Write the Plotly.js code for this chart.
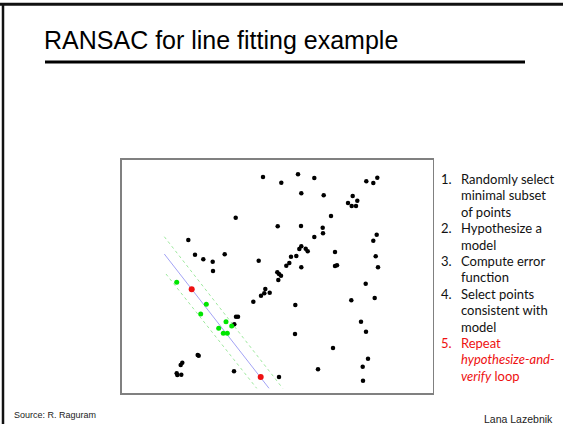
<!DOCTYPE html>
<html>
<head>
<meta charset="utf-8">
<script src="https://cdn.plot.ly/plotly-3.0.1.min.js"></script>
<style>html,body{margin:0;padding:0;background:#fff;}#chart{width:563px;height:424px;}</style>
</head>
<body>
<div id="chart"></div>
<script>
// ---- data (image pixel units) ----
var outlierX = [235.7,188.3,195,203.3,212.7,224.7,258.7,213,
  263,281.3,298,314.3,301.3,323.7,366.3,373.3,377.3,352.7,357.3,348,351.7,356,331,
  277.7,301,322.7,323,314.3,376.7,373.3,301.3,305.7,307.7,299.3,291,296.3,289.3,286.3,
  335,375.7,301.3,335,337,378,277.3,279,281,278.3,
  265.3,264.3,261,269.7,365.7,351.3,374.7,295.3,361,366,295,333,368,362.7,318,279,363,
  253.3,236,238,234.3,197.7,198.7,182.3,180.7,176.7,177.3,181.3,234];
var outlierY = [217.7,240,254.7,259.3,261.7,254.3,260.7,271,
  177,182.7,174.3,178,193.3,195.3,181.3,183,177.7,196,200.7,203,206,206,216,
  226.3,226,227.7,233.3,237,234.7,240.7,246.3,248.7,251.3,249,256.7,256,263,265.7,
  252,256.3,267.3,266,265.3,267.3,272.3,274,275.7,280,
  289,293.3,295.7,292.7,283.7,300.3,298,305,321.7,331.7,334,348,358.7,366.7,369.3,377,380.7,
  301.7,316.7,316.7,324.3,355,355.7,362.7,365,373.3,375,374.7,371.3];
var inlierX = [176.7,206.3,200.7,226,231.7,218.7,223.3,227.3];
var inlierY = [282.3,304.3,314,321.7,326,328.3,333.3,333.3];
var sampleX = [191.7,260.7];
var sampleY = [289.3,377];
var modelLineX = [164.3,269];
var modelLineY = [254,388.3];
var upperBandX = [164.3,282.7];
var upperBandY = [236.7,388.3];
var lowerBandX = [166,256.7];
var lowerBandY = [274,388.3];

var titleText = "RANSAC for line fitting example";
var stepNumbers = ["1.","","","2.","","3.","","4.","","","5.","",""];
var stepLines = ["Randomly select","minimal subset","of points","Hypothesize a","model",
  "Compute error","function","Select points","consistent with","model",
  "Repeat","<i>hypothesize-and-</i>","<i>verify</i> loop"];
var stepIsRed = [0,0,0,0,0,0,0,0,0,0,1,1,1];
var sourceText = "Source: R. Raguram";
var authorText = "Lana Lazebnik";

// ---- layout helpers ----
var W = 563, H = 424;
function px(x){return x/W;}
function py(y){return 1 - y/H;}
var box = {x0:121.5, x1:432.5, y0:159.5, y1:393};

var traces = [
  {x:upperBandX, y:upperBandY, mode:'lines', line:{color:'#9ee89e', width:1, dash:'3px,3px'}, hoverinfo:'skip'},
  {x:lowerBandX, y:lowerBandY, mode:'lines', line:{color:'#9ee89e', width:1, dash:'3px,3px'}, hoverinfo:'skip'},
  {x:modelLineX, y:modelLineY, mode:'lines', line:{color:'#a3a3f5', width:1}, hoverinfo:'skip'},
  {x:outlierX, y:outlierY, mode:'markers', marker:{color:'#000', size:4.5}},
  {x:inlierX, y:inlierY, mode:'markers', marker:{color:'#00e600', size:5}},
  {x:sampleX, y:sampleY, mode:'markers', marker:{color:'#ee1111', size:6}}
];

var annotations = [];
annotations.push({xref:'paper', yref:'paper', x:px(42), y:py(40), xanchor:'left', yanchor:'middle',
  text:titleText, showarrow:false, font:{family:'Liberation Sans, Arial', size:25, color:'#000'}});
var lineTop = 179, lineStep = 16.4;
for (var i = 0; i < stepLines.length; i++) {
  var col = stepIsRed[i] ? '#ee1111' : '#111';
  var yy = py(lineTop + i*lineStep);
  if (stepNumbers[i]) {
    annotations.push({xref:'paper', yref:'paper', x:px(439), y:yy, xanchor:'left', yanchor:'middle',
      text:stepNumbers[i], showarrow:false, font:{family:'Lato', size:13, color:col}});
  }
  annotations.push({xref:'paper', yref:'paper', x:px(459), y:yy, xanchor:'left', yanchor:'middle',
    text:stepLines[i], showarrow:false, font:{family:'Lato', size:13, color:col}});
}
annotations.push({xref:'paper', yref:'paper', x:px(12), y:py(414.8), xanchor:'left', yanchor:'middle',
  text:sourceText, showarrow:false, font:{family:'Liberation Sans, Arial', size:9, color:'#222'}});
annotations.push({xref:'paper', yref:'paper', x:px(555), y:py(418.5), xanchor:'right', yanchor:'middle',
  text:authorText, showarrow:false, font:{family:'Liberation Sans, Arial', size:10.5, color:'#222'}});

var shapes = [
  {type:'line', xref:'paper', yref:'paper', x0:0, x1:1, y0:py(4.3), y1:py(4.3), line:{color:'#111', width:3}},
  {type:'line', xref:'paper', yref:'paper', x0:px(3), x1:px(3), y0:py(3), y1:0, line:{color:'#111', width:2.5}},
  {type:'line', xref:'paper', yref:'paper', x0:px(45), x1:px(525), y0:py(62), y1:py(62), line:{color:'#000', width:3}}
];

var layout = {
  width:W, height:H, margin:{l:0,r:0,t:0,b:0},
  paper_bgcolor:'#fff', plot_bgcolor:'#fff', showlegend:false,
  xaxis:{domain:[px(box.x0), px(box.x1)], range:[box.x0, box.x1], autorange:false,
    showgrid:false, zeroline:false, showticklabels:false, ticks:'',
    showline:true, mirror:true, linecolor:'#808080', linewidth:1.5},
  yaxis:{domain:[py(box.y1), py(box.y0)], range:[box.y1, box.y0], autorange:false,
    showgrid:false, zeroline:false, showticklabels:false, ticks:'',
    showline:true, mirror:true, linecolor:'#808080', linewidth:1.5},
  annotations:annotations, shapes:shapes
};

Plotly.newPlot('chart', traces, layout, {staticPlot:true, displayModeBar:false});
</script>
</body>
</html>
